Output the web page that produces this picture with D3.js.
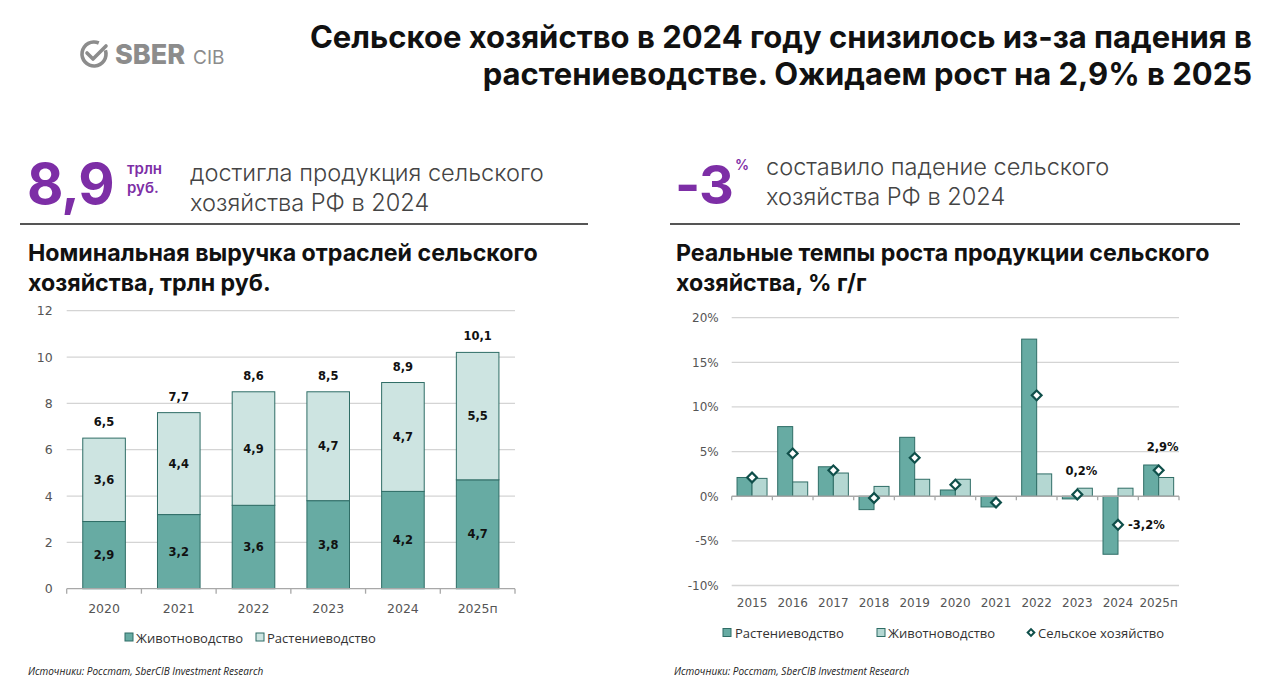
<!DOCTYPE html>
<html><head><meta charset="utf-8">
<script src="https://cdn.jsdelivr.net/npm/d3@7"></script>
<style>
html,body{margin:0;padding:0;background:#fff;}
svg{display:block;}
</style></head>
<body>
<svg id="c" width="1280" height="688"></svg>
<script>
// ---------- DATA ----------
const revYears = ["2020","2021","2022","2023","2024","2025п"];
const revLivestock = [2.9, 3.2, 3.6, 3.8, 4.2, 4.7];
const revCrops = [3.6, 4.4, 4.9, 4.7, 4.7, 5.5];
const revTotals = [6.5, 7.7, 8.6, 8.5, 8.9, 10.1];
const revTicks = [0, 2, 4, 6, 8, 10, 12];

const grYears = ["2015","2016","2017","2018","2019","2020","2021","2022","2023","2024","2025п"];
const grCrops = [2.1, 7.8, 3.3, -1.5, 6.6, 0.7, -1.2, 17.6, -0.3, -6.5, 3.5];
const grLivestock = [2.0, 1.6, 2.6, 1.1, 1.9, 1.9, 0.0, 2.5, 0.9, 0.9, 2.1];
const grTotal = [2.1, 4.8, 2.9, -0.2, 4.3, 1.3, -0.7, 11.3, 0.2, -3.2, 2.9];
const grTicks = [-10, -5, 0, 5, 10, 15, 20];
const grLabeled = {"2023":"0,2%", "2024":"-3,2%", "2025п":"2,9%"};

// ---------- STYLE ----------
const PURPLE = "#7d2ea6";
const DARK = "#67aba3";
const LIGHT_L = "#cde4e1";
const LIGHT_R = "#b4d7d2";
const EDGE = "#2f6d66";
const GRID = "#d4d4d4";
const AX = "#a8a8a8";
const TICKTXT = "#555";
const HEAD = "Inter, 'Noto Sans', sans-serif";
const NUMF = "'DejaVu Sans', Verdana, sans-serif";
const LEGF = "'Open Sans', sans-serif";

const svg = d3.select("#c");
const fmt = v => d3.format(".1f")(v).replace(".", ",");

// ---------- LOGO ----------
const logo = svg.append("g").attr("fill", "none").attr("stroke", "#8c8c8c");
logo.append("path").attr("d", d3.arc().innerRadius(10.2).outerRadius(13.8).startAngle(Math.PI*0.40).endAngle(Math.PI*2.13)())
  .attr("transform","translate(94,54)").attr("fill","#8c8c8c").attr("stroke","none");
logo.append("path").attr("d","M87,53 L93,59 L106,46").attr("stroke-width",3.6).attr("stroke-linecap","round").attr("stroke-linejoin","round");
svg.append("text").attr("x",115).attr("y",64).attr("font-family",HEAD).attr("font-weight",800)
  .attr("font-size",27).attr("fill","#8c8c8c").text("SBER");
svg.append("text").attr("x",193).attr("y",64).attr("font-family",HEAD).attr("font-weight",400)
  .attr("font-size",19).attr("fill","#8c8c8c").text("CIB");

// ---------- TITLE ----------
const tl = ["Сельское хозяйство в 2024 году снизилось из-за падения в",
            "растениеводстве. Ожидаем рост на 2,9% в 2025"];
tl.forEach((t,i)=>{
  svg.append("text").attr("x",1252).attr("y",48+i*37).attr("text-anchor","end")
    .attr("font-family",HEAD).attr("font-weight",700).attr("font-size",31)
    .attr("fill","#111").text(t);
});

// ---------- KPI blocks ----------
svg.append("text").attr("x",27).attr("y",204).attr("font-family",HEAD).attr("font-weight",700)
  .attr("font-size",56).attr("letter-spacing",-1).attr("fill",PURPLE).text("8,9");
svg.append("text").attr("x",127).attr("y",174).attr("font-family",HEAD).attr("font-weight",600)
  .attr("font-size",15).attr("fill",PURPLE).text("трлн");
svg.append("text").attr("x",127).attr("y",193).attr("font-family",HEAD).attr("font-weight",600)
  .attr("font-size",15).attr("fill",PURPLE).text("руб.");
["достигла продукция сельского","хозяйства РФ в 2024"].forEach((t,i)=>{
  svg.append("text").attr("x",190).attr("y",181+i*30).attr("font-family",HEAD).attr("font-weight",300)
    .attr("font-size",23.6).attr("fill","#444").text(t);
});
svg.append("text").attr("x",675).attr("y",204).attr("font-family",HEAD).attr("font-weight",700)
  .attr("font-size",54).attr("letter-spacing",-1).attr("fill",PURPLE).text("-3");
svg.append("text").attr("x",735).attr("y",170).attr("font-family",HEAD).attr("font-weight",600)
  .attr("font-size",14).attr("fill",PURPLE).text("%");
["составило падение сельского","хозяйства РФ в 2024"].forEach((t,i)=>{
  svg.append("text").attr("x",766).attr("y",175+i*30).attr("font-family",HEAD).attr("font-weight",300)
    .attr("font-size",23.6).attr("fill","#444").text(t);
});
svg.append("line").attr("x1",20).attr("x2",588).attr("y1",224).attr("y2",224).attr("stroke","#555").attr("stroke-width",2);
svg.append("line").attr("x1",670).attr("x2",1240).attr("y1",224).attr("y2",224).attr("stroke","#555").attr("stroke-width",2);

// chart titles
[["Номинальная выручка отраслей сельского","хозяйства, трлн руб."],
 ["Реальные темпы роста продукции сельского","хозяйства, % г/г"]].forEach((lines,k)=>{
  lines.forEach((t,i)=>{
    svg.append("text").attr("x",k?676:28).attr("y",261+i*30).attr("font-family",HEAD).attr("font-weight",700)
      .attr("font-size",23.2).attr("fill","#111").text(t);
  });
});

// ---------- LEFT CHART ----------
{
  const x = d3.scaleBand().domain(revYears).range([66.7, 515]).paddingInner(0.43).paddingOuter(0.215);
  const y = d3.scaleLinear().domain([0,12]).range([588.7, 310.7]);
  const g = svg.append("g");
  g.selectAll("line.grid").data(revTicks.filter(d=>d>0)).join("line").attr("class","grid")
    .attr("x1",66.7).attr("x2",515).attr("y1",d=>y(d)).attr("y2",d=>y(d)).attr("stroke",GRID).attr("stroke-width",1.3);
  const ya = d3.axisLeft(y).tickValues(revTicks).tickSize(0).tickPadding(14).tickFormat(d3.format("d"));
  const yg = g.append("g").attr("transform","translate(66.7,0)").call(ya);
  yg.select(".domain").remove();
  yg.selectAll("text").attr("font-family",NUMF).attr("font-size",12.5).attr("fill",TICKTXT);

  const stack = revYears.map((yr,i)=>({yr, a:revLivestock[i], b:revCrops[i], t:revTotals[i]}));
  g.selectAll("rect.bl").data(stack).join("rect").attr("class","bl")
    .attr("x",d=>x(d.yr)).attr("width",x.bandwidth())
    .attr("y",d=>y(d.a)).attr("height",d=>y(0)-y(d.a))
    .attr("fill",DARK).attr("stroke",EDGE).attr("stroke-width",1);
  g.selectAll("rect.bc").data(stack).join("rect").attr("class","bc")
    .attr("x",d=>x(d.yr)).attr("width",x.bandwidth())
    .attr("y",d=>y(d.a+d.b)).attr("height",d=>y(d.a)-y(d.a+d.b))
    .attr("fill",LIGHT_L).attr("stroke",EDGE).attr("stroke-width",1);
  const lab = (sel)=>sel.attr("font-family",NUMF).attr("font-weight",700).attr("font-size",11.5)
    .attr("fill","#111").attr("text-anchor","middle");
  g.selectAll("text.la").data(stack).join("text").attr("class","la").call(lab)
    .attr("x",d=>x(d.yr)+x.bandwidth()/2).attr("y",d=>(y(0)+y(d.a))/2+4).text(d=>fmt(d.a));
  g.selectAll("text.lb").data(stack).join("text").attr("class","lb").call(lab)
    .attr("x",d=>x(d.yr)+x.bandwidth()/2).attr("y",d=>(y(d.a)+y(d.a+d.b))/2+4).text(d=>fmt(d.b));
  g.selectAll("text.lt").data(stack).join("text").attr("class","lt").call(lab)
    .attr("x",d=>x(d.yr)+x.bandwidth()/2).attr("y",d=>y(d.a+d.b)-12).text(d=>fmt(d.t));

  // x axis
  g.append("line").attr("x1",66.7).attr("x2",515).attr("y1",y(0)).attr("y2",y(0)).attr("stroke",AX).attr("stroke-width",1.3);
  d3.range(revYears.length+1).forEach(i=>{
    const xx = 66.7 + i*x.step();
    g.append("line").attr("x1",xx).attr("x2",xx).attr("y1",y(0)).attr("y2",y(0)+5).attr("stroke",AX).attr("stroke-width",1.3);
  });
  g.selectAll("text.xl").data(revYears).join("text").attr("class","xl")
    .attr("x",d=>x(d)+x.bandwidth()/2).attr("y",613).attr("text-anchor","middle")
    .attr("font-family",NUMF).attr("font-size",12.5).attr("fill",TICKTXT).text(d=>d);

  // legend
  const lg = svg.append("g").attr("font-family",LEGF).attr("font-size",13).attr("fill","#333");
  lg.append("rect").attr("x",125).attr("y",633).attr("width",8).attr("height",8).attr("fill",DARK).attr("stroke",EDGE);
  lg.append("text").attr("x",136).attr("y",642.5).text("Животноводство");
  lg.append("rect").attr("x",256).attr("y",633).attr("width",8).attr("height",8).attr("fill",LIGHT_L).attr("stroke",EDGE);
  lg.append("text").attr("x",267).attr("y",642.5).text("Растениеводство");
}

// ---------- RIGHT CHART ----------
{
  const x0 = 731.7, x1 = 1179;
  const x = d3.scaleBand().domain(grYears).range([x0, x1]);
  const inner = d3.scaleBand().domain(["c","l"]).range([-15, 15]);
  const y = d3.scaleLinear().domain([-10,20]).range([585.5, 317.7]);
  const g = svg.append("g");
  g.selectAll("line.grid").data(grTicks.filter(d=>d!==0)).join("line").attr("class","grid")
    .attr("x1",x0).attr("x2",x1).attr("y1",d=>y(d)).attr("y2",d=>y(d)).attr("stroke",GRID).attr("stroke-width",1.3);
  const ya = d3.axisLeft(y).tickValues(grTicks).tickSize(0).tickPadding(13).tickFormat(d=>d+"%");
  const yg = g.append("g").attr("transform",`translate(${x0},0)`).call(ya);
  yg.select(".domain").remove();
  yg.selectAll("text").attr("font-family",NUMF).attr("font-size",12).attr("fill",TICKTXT);

  const rows = grYears.map((yr,i)=>({yr, c:grCrops[i], l:grLivestock[i], t:grTotal[i]}));
  const cx = yr=>x(yr)+x.bandwidth()/2;
  g.selectAll("rect.bc").data(rows).join("rect").attr("class","bc")
    .attr("x",d=>cx(d.yr)+inner("c")).attr("width",inner.bandwidth())
    .attr("y",d=>y(Math.max(0,d.c))).attr("height",d=>Math.abs(y(d.c)-y(0)))
    .attr("fill",DARK).attr("stroke",EDGE).attr("stroke-width",1);
  g.selectAll("rect.bl").data(rows.filter(d=>d.l!==0)).join("rect").attr("class","bl")
    .attr("x",d=>cx(d.yr)+inner("l")).attr("width",inner.bandwidth())
    .attr("y",d=>y(Math.max(0,d.l))).attr("height",d=>Math.abs(y(d.l)-y(0)))
    .attr("fill",LIGHT_R).attr("stroke",EDGE).attr("stroke-width",1);

  // x axis
  g.append("line").attr("x1",x0).attr("x2",x1).attr("y1",y(0)).attr("y2",y(0)).attr("stroke",AX).attr("stroke-width",1.3);
  d3.range(grYears.length+1).forEach(i=>{
    const xx = x0 + i*x.step();
    g.append("line").attr("x1",xx).attr("x2",xx).attr("y1",y(0)).attr("y2",y(0)+4).attr("stroke",AX).attr("stroke-width",1.3);
  });

  const sym = d3.symbol().type(d3.symbolSquare).size(48);
  g.selectAll("path.dm").data(rows).join("path").attr("class","dm")
    .attr("d",sym).attr("transform",d=>`translate(${cx(d.yr)},${y(d.t)}) rotate(45)`)
    .attr("fill","#fff").attr("stroke","#0f4f4a").attr("stroke-width",2.2);

  const lab = (sel)=>sel.attr("font-family",NUMF).attr("font-weight",700).attr("font-size",11.5).attr("fill","#111");
  rows.filter(d=>grLabeled[d.yr]).forEach(d=>{
    const t = g.append("text").call(lab).text(grLabeled[d.yr]);
    if (d.t < 0) t.attr("x",cx(d.yr)+10).attr("y",y(d.t)+4.5);
    else t.attr("text-anchor","middle").attr("x",cx(d.yr)+4).attr("y",y(d.t)-19);
  });

  g.selectAll("text.xl").data(grYears).join("text").attr("class","xl")
    .attr("x",d=>cx(d)).attr("y",607).attr("text-anchor","middle")
    .attr("font-family",NUMF).attr("font-size",12).attr("fill",TICKTXT).text(d=>d);

  const lg = svg.append("g").attr("font-family",LEGF).attr("font-size",13).attr("fill","#333");
  lg.append("rect").attr("x",723).attr("y",628.5).attr("width",8).attr("height",8).attr("fill",DARK).attr("stroke",EDGE);
  lg.append("text").attr("x",735).attr("y",637.5).text("Растениеводство");
  lg.append("rect").attr("x",877).attr("y",628.5).attr("width",8).attr("height",8).attr("fill",LIGHT_R).attr("stroke",EDGE);
  lg.append("text").attr("x",888).attr("y",637.5).text("Животноводство");
  lg.append("path").attr("d",d3.symbol().type(d3.symbolSquare).size(22)())
    .attr("transform","translate(1031,632.5) rotate(45)").attr("fill","#fff").attr("stroke","#0f4f4a").attr("stroke-width",2);
  lg.append("text").attr("x",1038).attr("y",637.5).text("Сельское хозяйство");
}

// ---------- FOOTERS ----------
[28, 674].forEach(xx=>{
  svg.append("text").attr("x",xx).attr("y",675).attr("font-family",LEGF).attr("font-style","italic")
    .attr("font-size",10).attr("fill","#222").text("Источники: Росстат, SberCIB Investment Research");
});
</script>
</body></html>
